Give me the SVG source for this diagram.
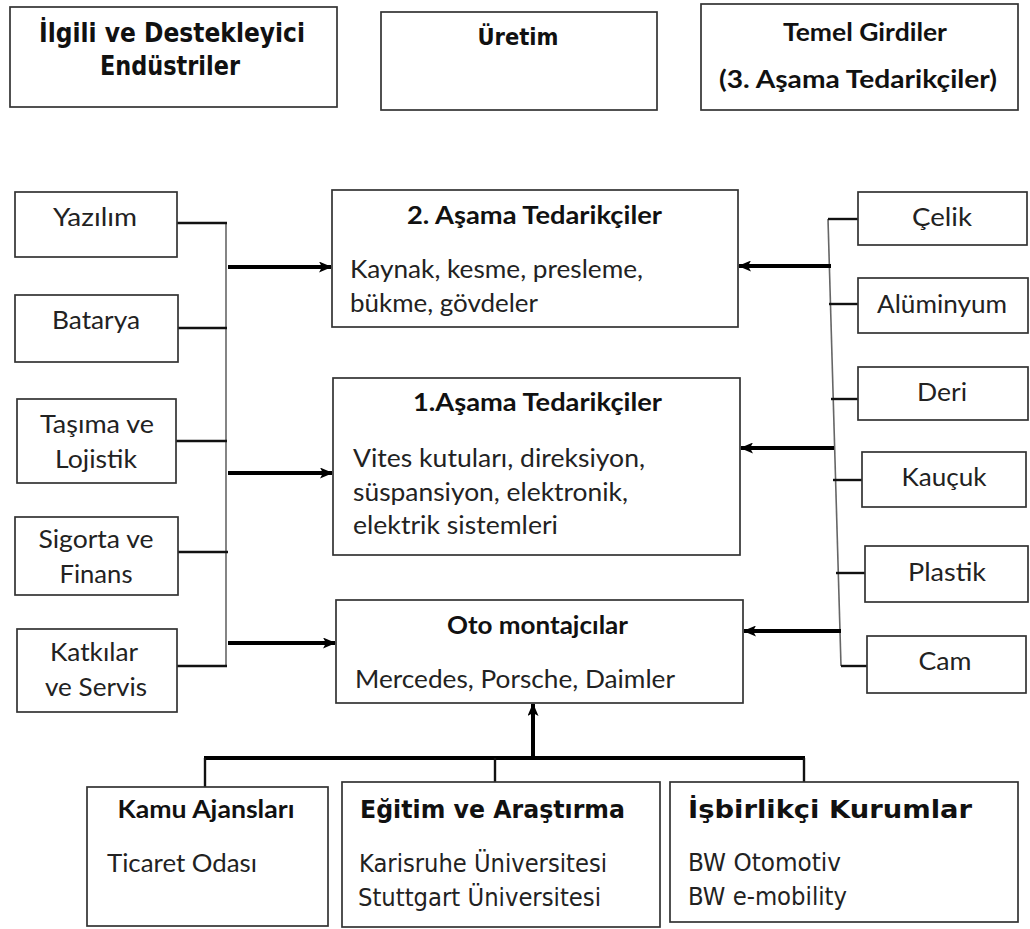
<svg xmlns="http://www.w3.org/2000/svg" width="1030" height="929" viewBox="0 0 1030 929">
<defs>
<marker id="ah" markerWidth="13" markerHeight="11" refX="12" refY="5.5" orient="auto" markerUnits="userSpaceOnUse">
<path d="M0,0 L13,5.5 L0,11 L3,5.5 Z" fill="#000"/>
</marker>
<style>
.box{fill:#fff;stroke:#333;stroke-width:1.7}
.t{font-family:Lato,"Liberation Sans",sans-serif;font-size:25px;fill:#222}
.tb{font-family:Lato,"Liberation Sans",sans-serif;font-size:25px;font-weight:bold;fill:#111}
.th{font-family:"DejaVu Sans","Liberation Sans",sans-serif;font-weight:bold;fill:#111}
.td{font-family:"DejaVu Sans","Liberation Sans",sans-serif;fill:#222}
.c{text-anchor:middle}
.bus{stroke:#666;stroke-width:1.6;fill:none}
.stub{stroke:#111;stroke-width:2.4;fill:none}
.arr{stroke:#000;stroke-width:4;fill:none}
</style>
</defs>
<rect width="1030" height="929" fill="#fff"/>

<g id="hdr-ilgili">
<rect class="box" x="10" y="7" width="327" height="100"/>
<text class="th c" x="172" y="42" font-size="26" textLength="266" lengthAdjust="spacingAndGlyphs">İlgili ve Destekleyici</text>
<text class="th c" x="170" y="75" font-size="26" textLength="140" lengthAdjust="spacingAndGlyphs">Endüstriler</text>
</g>
<g id="hdr-uretim">
<rect class="box" x="381" y="12" width="276" height="98"/>
<text class="th c" x="518" y="45" font-size="23" textLength="81" lengthAdjust="spacingAndGlyphs">Üretim</text>
</g>
<g id="hdr-temel">
<rect class="box" x="701" y="4" width="317" height="106"/>
<text class="tb c" x="865" y="41" font-size="25" textLength="164" lengthAdjust="spacingAndGlyphs">Temel Girdiler</text>
<text class="tb c" x="858" y="88" font-size="25" textLength="278" lengthAdjust="spacingAndGlyphs">(3. Aşama Tedarikçiler)</text>
</g>

<g id="connectors">
<line class="bus" x1="226" y1="223" x2="226" y2="666"/>
<line class="stub" x1="177" y1="223" x2="227" y2="223"/>
<line class="stub" x1="176" y1="328" x2="227" y2="328"/>
<line class="stub" x1="176" y1="441" x2="227" y2="441"/>
<line class="stub" x1="178" y1="552" x2="228" y2="552"/>
<line class="stub" x1="175" y1="666" x2="227" y2="666"/>
<line class="arr" x1="228" y1="267" x2="331" y2="267" marker-end="url(#ah)"/>
<line class="arr" x1="228" y1="473" x2="332" y2="473" marker-end="url(#ah)"/>
<line class="arr" x1="228" y1="643" x2="335" y2="643" marker-end="url(#ah)"/>

<line class="bus" x1="828" y1="219" x2="841" y2="666"/>
<line class="stub" x1="828" y1="219" x2="858" y2="219"/>
<line class="stub" x1="829" y1="304" x2="858" y2="304"/>
<line class="stub" x1="831" y1="399" x2="858" y2="399"/>
<line class="stub" x1="833" y1="480" x2="862" y2="480"/>
<line class="stub" x1="836" y1="573" x2="865" y2="573"/>
<line class="stub" x1="841" y1="666" x2="867" y2="666"/>
<line class="arr" x1="831" y1="266" x2="739" y2="266" marker-end="url(#ah)"/>
<line class="arr" x1="834" y1="448" x2="741" y2="448" marker-end="url(#ah)"/>
<line class="arr" x1="841" y1="631" x2="744" y2="631" marker-end="url(#ah)"/>

<line class="arr" x1="533" y1="758" x2="533" y2="704" marker-end="url(#ah)"/>
<line class="arr" x1="204" y1="758" x2="805" y2="758" stroke-width="3.5"/>
<line class="stub" x1="205" y1="758" x2="205" y2="787" stroke-width="2.6"/>
<line class="stub" x1="495" y1="758" x2="495" y2="782" stroke-width="2.6"/>
<line class="stub" x1="804" y1="758" x2="804" y2="782" stroke-width="2.6"/>
</g>

<g id="yazilim"><rect class="box" x="15" y="192" width="162" height="65"/><text class="t c" x="95" y="226" textLength="84" lengthAdjust="spacingAndGlyphs">Yazılım</text></g>
<g id="batarya"><rect class="box" x="15" y="295" width="163" height="67"/><text class="t c" x="96" y="329" textLength="88" lengthAdjust="spacingAndGlyphs">Batarya</text></g>
<g id="tasima"><rect class="box" x="17" y="399" width="159" height="84"/><text class="t c" x="97" y="433" textLength="114" lengthAdjust="spacingAndGlyphs">Taşıma ve</text><text class="t c" x="96" y="468" textLength="82" lengthAdjust="spacingAndGlyphs">Lojistik</text></g>
<g id="sigorta"><rect class="box" x="15" y="517" width="163" height="78"/><text class="t c" x="96" y="548" textLength="115" lengthAdjust="spacingAndGlyphs">Sigorta ve</text><text class="t c" x="96" y="583" textLength="73" lengthAdjust="spacingAndGlyphs">Finans</text></g>
<g id="katkilar"><rect class="box" x="17" y="629" width="160" height="83"/><text class="t c" x="94" y="661" textLength="88" lengthAdjust="spacingAndGlyphs">Katkılar</text><text class="t c" x="96" y="696" textLength="102" lengthAdjust="spacingAndGlyphs">ve Servis</text></g>

<g id="asama2"><rect class="box" x="332" y="190" width="406" height="137"/>
<text class="tb" x="407" y="224" textLength="255" lengthAdjust="spacingAndGlyphs">2. Aşama Tedarikçiler</text>
<text class="t" x="350" y="278" textLength="293" lengthAdjust="spacingAndGlyphs">Kaynak, kesme, presleme,</text>
<text class="t" x="350" y="312" textLength="188" lengthAdjust="spacingAndGlyphs">bükme, gövdeler</text></g>
<g id="asama1"><rect class="box" x="333" y="378" width="407" height="177"/>
<text class="tb" x="413" y="411" textLength="249" lengthAdjust="spacingAndGlyphs">1.Aşama Tedarikçiler</text>
<text class="t" x="353" y="467" textLength="292" lengthAdjust="spacingAndGlyphs">Vites kutuları, direksiyon,</text>
<text class="t" x="353" y="501" textLength="275" lengthAdjust="spacingAndGlyphs">süspansiyon, elektronik,</text>
<text class="t" x="353" y="534" textLength="205" lengthAdjust="spacingAndGlyphs">elektrik sistemleri</text></g>
<g id="oto"><rect class="box" x="336" y="600" width="407" height="103"/>
<text class="tb" x="447" y="634" textLength="181" lengthAdjust="spacingAndGlyphs">Oto montajcılar</text>
<text class="t" x="355" y="688" textLength="320" lengthAdjust="spacingAndGlyphs">Mercedes, Porsche, Daimler</text></g>

<g id="celik"><rect class="box" x="858" y="192" width="169" height="53"/><text class="t c" x="942" y="226" textLength="60" lengthAdjust="spacingAndGlyphs">Çelik</text></g>
<g id="aluminyum"><rect class="box" x="858" y="278" width="170" height="55"/><text class="t c" x="942" y="313" textLength="130" lengthAdjust="spacingAndGlyphs">Alüminyum</text></g>
<g id="deri"><rect class="box" x="858" y="367" width="170" height="53"/><text class="t c" x="942" y="401" textLength="50" lengthAdjust="spacingAndGlyphs">Deri</text></g>
<g id="kaucuk"><rect class="box" x="862" y="452" width="164" height="55"/><text class="t c" x="944" y="486" textLength="85" lengthAdjust="spacingAndGlyphs">Kauçuk</text></g>
<g id="plastik"><rect class="box" x="865" y="546" width="163" height="56"/><text class="t c" x="947" y="581" textLength="78" lengthAdjust="spacingAndGlyphs">Plastik</text></g>
<g id="cam"><rect class="box" x="867" y="636" width="159" height="57"/><text class="t c" x="945" y="670" textLength="53" lengthAdjust="spacingAndGlyphs">Cam</text></g>

<g id="kamu"><rect class="box" x="87" y="787" width="241" height="139"/>
<text class="tb c" x="206" y="818" font-size="26" textLength="177" lengthAdjust="spacingAndGlyphs">Kamu Ajansları</text>
<text class="t" x="107" y="872" font-size="26" textLength="150" lengthAdjust="spacingAndGlyphs">Ticaret Odası</text></g>
<g id="egitim"><rect class="box" x="342" y="782" width="318" height="145"/>
<text class="th" x="360" y="818" font-size="25" textLength="265" lengthAdjust="spacingAndGlyphs">Eğitim ve Araştırma</text>
<text class="td" x="359" y="872" font-size="24" textLength="248" lengthAdjust="spacingAndGlyphs">Karisruhe Üniversitesi</text>
<text class="td" x="358" y="906" font-size="24" textLength="243" lengthAdjust="spacingAndGlyphs">Stuttgart Üniversitesi</text></g>
<g id="isbirlikci"><rect class="box" x="670" y="782" width="348" height="140"/>
<text class="th" x="688" y="818" font-size="25" textLength="284" lengthAdjust="spacingAndGlyphs">İşbirlikçi Kurumlar</text>
<text class="td" x="688" y="871" font-size="24" textLength="153" lengthAdjust="spacingAndGlyphs">BW Otomotiv</text>
<text class="td" x="688" y="905" font-size="24" textLength="159" lengthAdjust="spacingAndGlyphs">BW e-mobility</text></g>
</svg>
